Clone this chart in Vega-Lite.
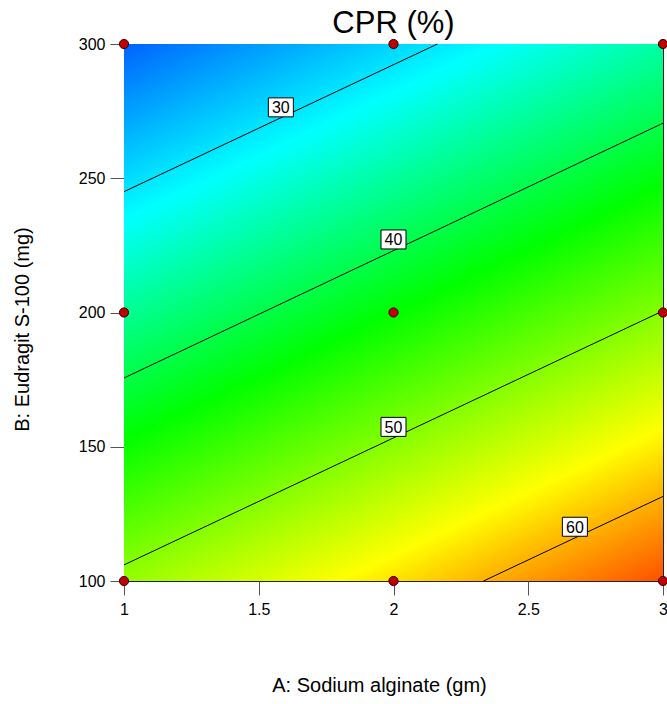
{
  "$schema": "https://vega.github.io/schema/vega-lite/v6.json",
  "width": 539,
  "height": 537,
  "autosize": {"type": "none"},
  "padding": {"left": 124, "top": 44, "right": 4, "bottom": 123},
  "background": "white",
  "config": {"view": {"stroke": "#222", "strokeWidth": 1}, "font": "Liberation Sans"},
  "title": {"text": "CPR (%)", "fontSize": 31, "font": "Liberation Sans", "fontWeight": "normal", "color": "black", "anchor": "middle", "frame": "group", "baseline": "alphabetic", "offset": 10, "dy": 38},
  "datasets": {
    "surface": [{"a0": 1, "a1": 3, "b0": 100, "b1": 300, "cprMin": 22.1, "cprMax": 64.5}],
    "contours": [
      {"level": 30, "a": 1, "b": 245},
      {"level": 30, "a": 2.163, "b": 300},
      {"level": 40, "a": 1, "b": 175.6},
      {"level": 40, "a": 3, "b": 270.5},
      {"level": 50, "a": 1, "b": 106},
      {"level": 50, "a": 3, "b": 200.6},
      {"level": 60, "a": 2.334, "b": 100},
      {"level": 60, "a": 3, "b": 131.5}
    ],
    "labels": [
      {"level": 30, "a": 1.582, "b": 276.4},
      {"level": 40, "a": 2.0, "b": 227.2},
      {"level": 50, "a": 2.0, "b": 157.4},
      {"level": 60, "a": 2.673, "b": 120.2}
    ],
    "design": [
      {"a": 1, "b": 100}, {"a": 1, "b": 200}, {"a": 1, "b": 300},
      {"a": 2, "b": 100}, {"a": 2, "b": 200}, {"a": 2, "b": 300},
      {"a": 3, "b": 100}, {"a": 3, "b": 200}, {"a": 3, "b": 300}
    ]
  },
  "layer": [
    {
      "data": {"name": "surface"},
      "mark": {
        "type": "rect",
        "stroke": null,
        "fill": {
          "gradient": "linear",
          "x1": 0, "y1": 0, "x2": 0.5693, "y2": 1.2038,
          "stops": [
            {"offset": 0, "color": "#0062FF"},
            {"offset": 0.222, "color": "#00FFFF"},
            {"offset": 0.5, "color": "#00FF00"},
            {"offset": 0.807, "color": "#FFFF00"},
            {"offset": 1, "color": "#FF5000"}
          ]
        }
      },
      "encoding": {
        "x": {
          "field": "a0", "type": "quantitative",
          "scale": {"domain": [1, 3], "nice": false, "zero": false},
          "axis": {
            "values": [1, 1.5, 2, 2.5, 3], "format": "~g",
            "title": "A: Sodium alginate (gm)", "titleFontSize": 20, "titleFont": "Liberation Sans",
            "titleFontWeight": "normal", "titleColor": "black",
            "labelFontSize": 16, "labelFont": "Liberation Sans", "labelColor": "black",
            "tickSize": 14, "tickColor": "#555", "domain": false, "grid": false,
            "labelPadding": 6, "labelFlush": false, "labelOverlap": false,
            "titleX": 255, "titleY": 110, "titleBaseline": "alphabetic", "titleAlign": "center"
          }
        },
        "x2": {"field": "a1"},
        "y": {
          "field": "b0", "type": "quantitative",
          "scale": {"domain": [100, 300], "nice": false, "zero": false},
          "axis": {
            "values": [100, 150, 200, 250, 300],
            "title": "B: Eudragit S-100 (mg)", "titleFontSize": 20, "titleFont": "Liberation Sans",
            "titleFontWeight": "normal", "titleColor": "black",
            "labelFontSize": 16, "labelFont": "Liberation Sans", "labelColor": "black",
            "tickSize": 14, "tickColor": "#555", "domain": false, "grid": false,
            "labelPadding": 5, "labelFlush": false, "labelOverlap": false,
            "titleX": -102, "titleY": 285, "titleBaseline": "middle", "titleAlign": "center", "titleAngle": 270
          }
        },
        "y2": {"field": "b1"}
      }
    },
    {
      "data": {"name": "contours"},
      "mark": {"type": "line", "color": "black", "strokeWidth": 1},
      "encoding": {
        "x": {"field": "a", "type": "quantitative"},
        "y": {"field": "b", "type": "quantitative"},
        "detail": {"field": "level", "type": "nominal"},
        "order": {"field": "a", "type": "quantitative"}
      }
    },
    {
      "data": {"name": "labels"},
      "mark": {"type": "point", "shape": "M-1,-0.76L1,-0.76L1,0.76L-1,0.76Z", "size": 625, "filled": true, "fill": "white", "stroke": "black", "strokeWidth": 1, "opacity": 1},
      "encoding": {
        "x": {"field": "a", "type": "quantitative"},
        "y": {"field": "b", "type": "quantitative"}
      }
    },
    {
      "data": {"name": "labels"},
      "mark": {"type": "text", "font": "Liberation Sans", "fontSize": 16, "baseline": "middle", "align": "center", "dy": 1, "color": "black"},
      "encoding": {
        "x": {"field": "a", "type": "quantitative"},
        "y": {"field": "b", "type": "quantitative"},
        "text": {"field": "level", "type": "quantitative"}
      }
    },
    {
      "data": {"name": "design"},
      "mark": {"type": "circle", "size": 85, "color": "#C00000", "stroke": "#300000", "strokeWidth": 1, "opacity": 1},
      "encoding": {
        "x": {"field": "a", "type": "quantitative"},
        "y": {"field": "b", "type": "quantitative"}
      }
    }
  ]
}
